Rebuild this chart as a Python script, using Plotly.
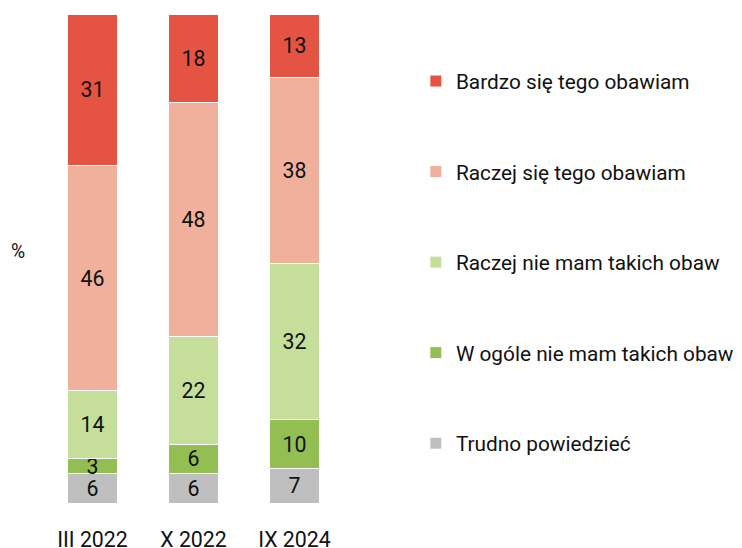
import plotly.graph_objects as go

categories = ["III 2022", "X 2022", "IX 2024"]
series_names = [
    "Trudno powiedzieć",
    "W ogóle nie mam takich obaw",
    "Raczej nie mam takich obaw",
    "Raczej się tego obawiam",
    "Bardzo się tego obawiam",
]
trudno = [6, 6, 7]
w_ogole = [3, 6, 10]
raczej_nie = [14, 22, 32]
raczej_sie = [46, 48, 38]
bardzo = [31, 18, 13]
values = [trudno, w_ogole, raczej_nie, raczej_sie, bardzo]
colors = ["#BFBFBF", "#93BE52", "#C5DF9B", "#F0B09C", "#E55342"]

FONT = "Roboto"
FS = 21.3
LFS = 20.8

fig = go.Figure()
n = len(series_names)
for i, (name, vals, col) in enumerate(zip(series_names, values, colors)):
    fig.add_trace(go.Bar(
        x=categories, y=vals, name=name,
        marker=dict(color=col, line=dict(color="white", width=1)),
        text=[str(v) for v in vals],
        textposition="inside", insidetextanchor="middle", textangle=0,
        textfont=dict(family=FONT, size=FS, color="#111111"),
        legendgroup=f"g{i}", legendrank=n - i,
        hoverinfo="skip",
    ))

# the page body adds an 8px offset; figure coordinates below account for it
W, H = 734, 540
ml, mr, mt, mb = 33.5, 397, 6, 45
pw = W - ml - mr
ph = H - mt - mb

fig.update_layout(
    width=W, height=H,
    margin=dict(l=ml, r=mr, t=mt, b=mb, pad=0, autoexpand=False),
    barmode="stack", bargap=0.505,
    paper_bgcolor="white", plot_bgcolor="white",
    font=dict(family=FONT, size=FS, color="#111111"),
    uniformtext=dict(minsize=FS, mode="show"),
    showlegend=True,
    legend=dict(
        traceorder="grouped", tracegroupgap=60.5,
        x=(408 - ml) / pw, xanchor="left",
        y=(H - mb - 53) / ph, yanchor="top",
        font=dict(family=FONT, size=LFS, color="#111111"),
        bgcolor="rgba(0,0,0,0)", borderwidth=0,
    ),
    xaxis=dict(showgrid=False, showline=False, zeroline=False, ticks="",
               automargin=False,
               ticklabelstandoff=22, tickfont=dict(family=FONT, size=FS)),
    yaxis=dict(range=[0, 100], visible=False, fixedrange=True, automargin=False),
    annotations=[dict(
        text="%", xref="paper", yref="paper",
        x=(9 - ml) / pw, y=(H - mb - 243) / ph,
        showarrow=False, xanchor="center", yanchor="middle",
        font=dict(family=FONT, size=FS - 2, color="#111111"),
    )],
)

fig.write_html("out.html")
